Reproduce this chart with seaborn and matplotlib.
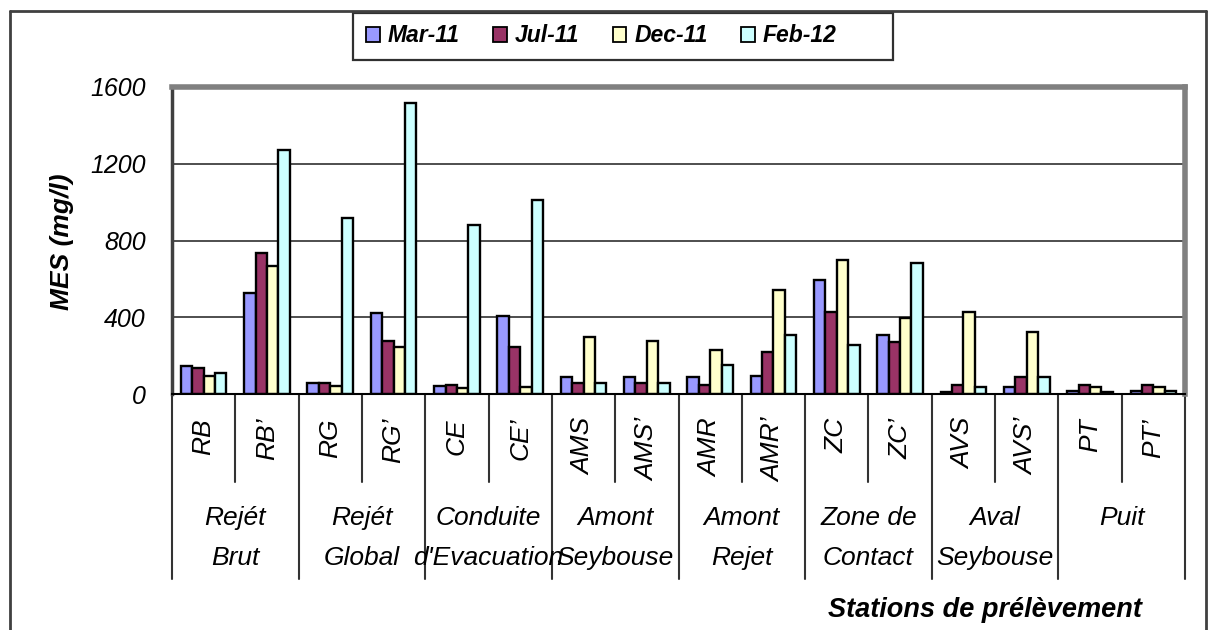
import matplotlib
matplotlib.use("Agg")
import matplotlib.pyplot as plt
import matplotlib.transforms as mtransforms
from matplotlib.lines import Line2D
from matplotlib.patches import Patch, Rectangle
import numpy as np
import pandas as pd
import seaborn as sns

# Sampling stations (two per site) and campaigns
stations = ["RB", "RB’", "RG", "RG’", "CE", "CE’", "AMS", "AMS’",
            "AMR", "AMR’", "ZC", "ZC’", "AVS", "AVS’", "PT", "PT’"]
periods = ["Mar-11", "Jul-11", "Dec-11", "Feb-12"]

# Suspended matter (MES, mg/l) per campaign
mes_mar_11 = [148, 526, 57, 423, 43, 409, 87, 87, 87, 96, 595, 305, 8, 35, 14, 14]
mes_jul_11 = [136, 737, 57, 278, 47, 243, 57, 57, 49, 217, 426, 270, 49, 87, 49, 49]
mes_dec_11 = [96, 667, 43, 243, 29, 35, 296, 278, 230, 543, 696, 397, 426, 322, 35, 35]
mes_feb_12 = [108, 1271, 919, 1518, 879, 1010, 57, 57, 153, 305, 256, 684, 35, 87, 8, 17]

# Site names shown under each pair of stations
site_line1 = ["Rejét", "Rejét", "Conduite", "Amont", "Amont", "Zone de", "Aval", "Puit"]
site_line2 = ["Brut", "Global", "d'Evacuation", "Seybouse", "Rejet", "Contact", "Seybouse", ""]

y_ticks = [0, 400, 800, 1200, 1600]
colors = ["#9999FF", "#993366", "#FFFFCC", "#CCFFFF"]

sns.set_theme(style="white")
plt.rcParams["font.family"] = ["Liberation Sans", "DejaVu Sans"]
plt.rcParams["text.color"] = "black"
plt.rcParams["axes.labelcolor"] = "black"
plt.rcParams["ytick.color"] = "black"

df = pd.DataFrame({
    "station": stations * len(periods),
    "period": np.repeat(periods, len(stations)),
    "mes": mes_mar_11 + mes_jul_11 + mes_dec_11 + mes_feb_12,
})

W, H = 1208, 630
fig = plt.figure(figsize=(W / 100, H / 100), dpi=100)
ax = fig.add_axes([172 / W, 1 - 394 / H, (1185 - 172) / W, (394 - 87) / H])

sns.barplot(data=df, x="station", y="mes", hue="period", order=stations,
            hue_order=periods, palette=colors, saturation=1, width=0.72,
            edgecolor="black", linewidth=1.7, errorbar=None, ax=ax)
if ax.get_legend() is not None:
    ax.get_legend().remove()

ax.set_xlim(-0.5, len(stations) - 0.5)
ax.set_ylim(y_ticks[0], y_ticks[-1])
ax.set_yticks(y_ticks)
ax.set_yticklabels([str(v) for v in y_ticks], fontsize=18, style="italic", color="black")
ax.tick_params(axis="y", direction="out", length=6, width=1.5, color="#404040", pad=13)
ax.set_xticks([])
ax.set_xlabel("")
ax.set_ylabel("")
ax.yaxis.grid(True, color="#404040", linewidth=1.3)
ax.set_axisbelow(True)

ax.spines["top"].set(color="#808080", linewidth=4)
ax.spines["right"].set(color="#808080", linewidth=4)
ax.spines["left"].set(color="#404040", linewidth=2.5)
ax.spines["bottom"].set(color="black", linewidth=1.5)

# Two-level category table under the axis
trans = mtransforms.blended_transform_factory(ax.transData, ax.transAxes)
inner_bottom = -(482 - 394) / 307
outer_bottom = -(579 - 394) / 307
for k in range(len(stations) + 1):
    yb = outer_bottom if k % 2 == 0 else inner_bottom
    ax.plot([k - 0.5, k - 0.5], [0, yb], color="#333333", lw=1.5,
            transform=trans, clip_on=False)

for i, s in enumerate(stations):
    ax.text(i, -(418 - 394) / 307, s, rotation=90, ha="center", va="top",
            fontsize=19, style="italic", transform=trans)

for g, (l1, l2) in enumerate(zip(site_line1, site_line2)):
    xc = 2 * g + 0.5
    ax.text(xc, -(518 - 394) / 307, l1, ha="center", va="center",
            fontsize=19, style="italic", transform=trans)
    if l2:
        ax.text(xc, -(558 - 394) / 307, l2, ha="center", va="center",
                fontsize=19, style="italic", transform=trans)

fig.text(985 / W, 1 - 610 / H, "Stations de prélèvement", ha="center", va="center",
         fontsize=19.5, weight="bold", style="italic")
fig.text(62 / W, 1 - 242 / H, "MES (mg/l)", rotation=90, ha="center", va="center",
         fontsize=19, weight="bold", style="italic")

# Legend entries with a separate, wider box around them
handles = [Patch(facecolor=c, edgecolor="black", linewidth=1.3) for c in colors]
leg = fig.legend(handles, periods, loc="center left", bbox_to_anchor=(366 / W, 1 - 36 / H),
                 ncol=4, frameon=False, borderpad=0, borderaxespad=0,
                 prop=dict(weight="bold", style="italic", size=16.5),
                 handlelength=0.6, handleheight=0.6, handletextpad=0.35,
                 columnspacing=1.45)
fig.add_artist(Rectangle((353 / W, 1 - 60 / H), (893 - 353) / W, 47 / H,
                         transform=fig.transFigure, fill=False,
                         edgecolor="#303030", linewidth=1.6))

# Outer chart frame
fx0, fx1, fy1 = 10 / W, 1206 / W, 1 - 11 / H
for xs, ys in [([fx0, fx0], [0, fy1]), ([fx0, fx1], [fy1, fy1]), ([fx1, fx1], [0, fy1])]:
    fig.add_artist(Line2D(xs, ys, transform=fig.transFigure, color="#404040", lw=2))

fig.savefig("out.png", dpi=100)
